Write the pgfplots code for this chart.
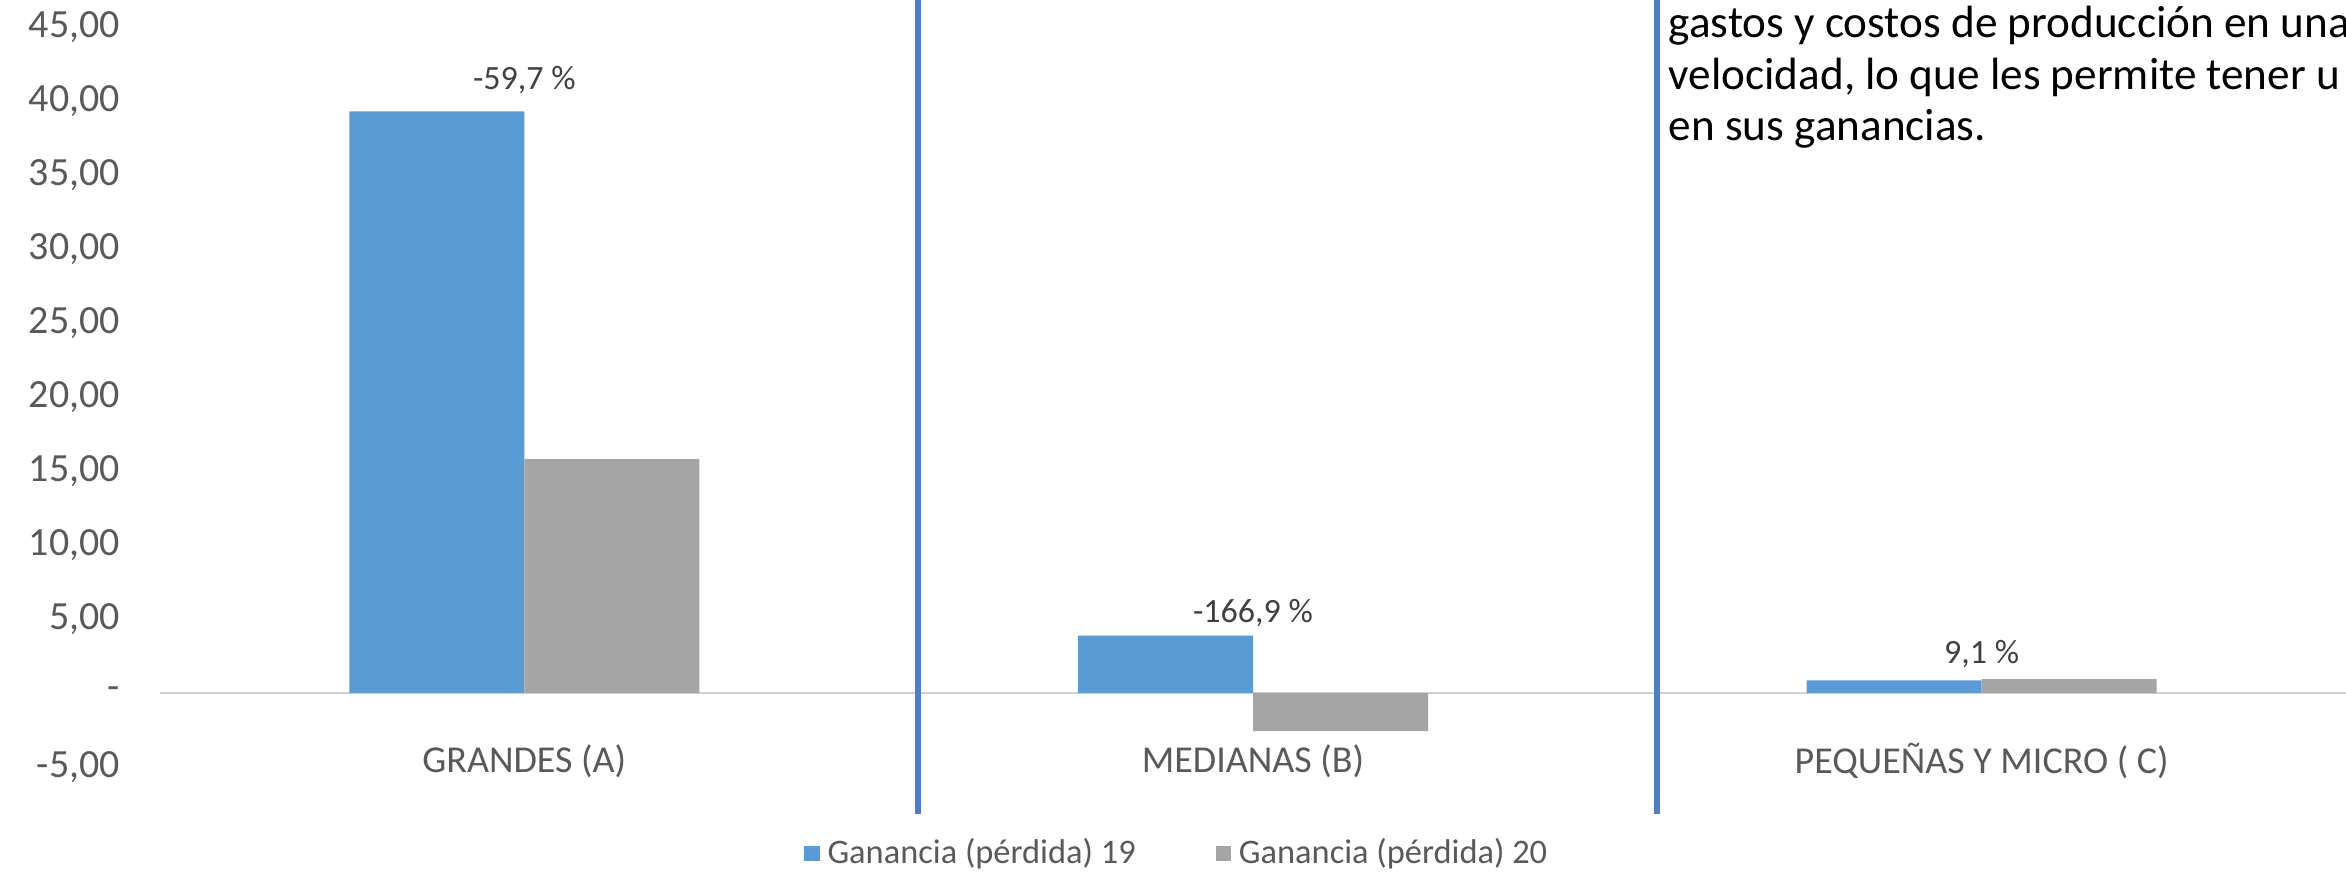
\documentclass[border=0pt]{standalone}
\usepackage{fontspec}
\setmainfont{Carlito}
\usepackage{pgfplots}
\pgfplotsset{compat=1.18}
\definecolor{azul}{HTML}{5B9BD5}
\definecolor{gris}{HTML}{A5A5A5}
\definecolor{separa}{HTML}{4E7EC4}
\definecolor{eje}{HTML}{D0D0D0}
\definecolor{txt}{HTML}{595959}
\definecolor{dato}{HTML}{404040}

\begin{document}
\begin{tikzpicture}
\useasboundingbox (-40pt,-26.5pt) rectangle (546.5pt,191.75pt);
\clip (-40pt,-26.5pt) rectangle (546.5pt,191.75pt);
\begin{axis}[
    at={(0,0)}, anchor=south west,
    scale only axis,
    width=546.5pt,
    height=185pt,
    ybar=0pt,
    bar width=43.75pt,
    xmin=-0.5, xmax=2.5,
    ymin=-5, ymax=45,
    axis line style={draw=none},
    tick style={draw=none},
    xtick={0,1,2},
    xticklabels={GRANDES (A), MEDIANAS (B), PEQUEÑAS Y MICRO ( C)},
    xticklabel style={anchor=center, yshift=5.75pt, font=\fontsize{9.5}{11}\selectfont, text=txt},
    ytick={-5,0,5,10,15,20,25,30,35,40,45},
    yticklabels={{-5,00},{-},{5,00},{10,00},{15,00},{20,00},{25,00},{30,00},{35,00},{40,00},{45,00}},
    yticklabel style={anchor=east, xshift=-6.5pt, font=\fontsize{10}{12}\selectfont, text=txt},
    clip=false,
    legend style={at={(0.4665,-0.117)}, anchor=center, draw=none, fill=none,
        legend columns=2, font=\fontsize{8.6}{11}\selectfont, text=txt,
        /tikz/every even column/.append style={column sep=18pt}},
    legend image code/.code={\fill[#1] (0pt,-1.9pt) rectangle (3.8pt,1.9pt);},
]
% linea de cero
\draw[eje, line width=0.6pt] (axis cs:-0.5,0) -- (axis cs:2.5,0);

\addplot[fill=azul, draw=none] coordinates {(0,39.3) (1,3.87) (2,0.85)};
\addplot[fill=gris, draw=none] coordinates {(0,15.8) (1,-2.58) (2,0.93)};
\legend{Ganancia (pérdida) 19, Ganancia (pérdida) 20}

% variaciones
\node[font=\fontsize{8.5}{10}\selectfont, text=dato] at (axis cs:0,41.4) {-59,7 \%};
\node[font=\fontsize{8.5}{10}\selectfont, text=dato] at (axis cs:1,5.4) {-166,9 \%};
\node[font=\fontsize{8.5}{10}\selectfont, text=dato] at (axis cs:2,2.6) {9,1 \%};

% separadores
\draw[separa, line width=1.5pt] (axis cs:0.540,47) -- (axis cs:0.540,-8.2);
\draw[separa, line width=1.5pt] (axis cs:1.555,47) -- (axis cs:1.555,-8.2);
\end{axis}

% cuadro de texto
\begin{scope}[font=\fontsize{11.3}{12.9}\selectfont]
\node[anchor=base west, inner sep=0pt] at (377pt,182.3pt) {gastos y costos de producción en una};
\node[anchor=base west, inner sep=0pt] at (377pt,169.4pt) {velocidad, lo que les permite tener u};
\node[anchor=base west, inner sep=0pt] at (377pt,156.5pt) {en sus ganancias.};
\end{scope}
\end{tikzpicture}
\end{document}
